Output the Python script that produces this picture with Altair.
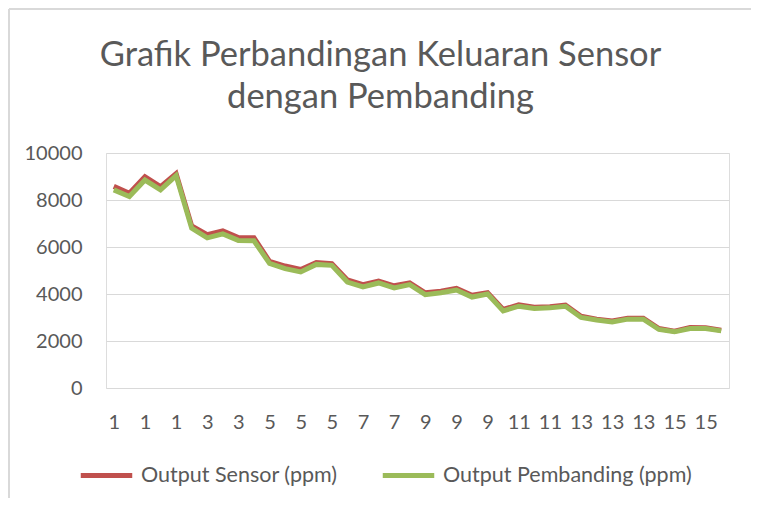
import json
import altair as alt
import pandas as pd

# ---- data ----
x_labels = ["1", "1", "1", "1", "1", "2", "3", "3", "3", "4",
            "5", "5", "5", "5", "5", "6", "7", "7", "7", "8",
            "9", "9", "9", "9", "9", "10", "11", "11", "11", "12",
            "13", "13", "13", "13", "13", "14", "15", "15", "15", "16"]

sensor = [8580, 8290, 8990, 8570, 9120, 6900, 6520, 6690, 6400, 6390,
          5390, 5190, 5040, 5340, 5290, 4600, 4400, 4550, 4350, 4470,
          4050, 4120, 4240, 3950, 4060, 3340, 3540, 3440, 3460, 3530,
          3050, 2930, 2850, 2970, 2970, 2530, 2420, 2570, 2560, 2460]

pembanding = [8430, 8150, 8850, 8430, 9040, 6800, 6390, 6560, 6280, 6265,
              5300, 5080, 4940, 5260, 5220, 4510, 4300, 4470, 4260, 4400,
              3970, 4050, 4170, 3870, 4000, 3280, 3480, 3380, 3410, 3480,
              3000, 2890, 2810, 2930, 2930, 2490, 2390, 2530, 2530, 2430]

series_names = ["Output Sensor (ppm)", "Output Pembanding (ppm)"]
series_colors = ["#C0504D", "#9BBB59"]
y_ticks = [0, 2000, 4000, 6000, 8000, 10000]
title_lines = ["Grafik Perbandingan Keluaran Sensor", "dengan Pembanding"]

rows = []
for name, vals in zip(series_names, [sensor, pembanding]):
    for i, v in enumerate(vals):
        rows.append({"idx": i, "value": v, "series": name})
df = pd.DataFrame(rows)

FONT = "Lato"
TXT = "#595959"
GRID = "#D9D9D9"

label_expr = json.dumps(x_labels) + "[datum.value]"

W, H = 623, 235
PAD_L, PAD_T = 98, 145

lines = alt.Chart(df).mark_line(strokeWidth=5, strokeJoin="miter").encode(
    x=alt.X("idx:O",
            scale=alt.Scale(type="point", padding=0.5),
            axis=alt.Axis(values=list(range(0, len(x_labels), 2)),
                          labelExpr=label_expr, labelAngle=0, title=None,
                          ticks=False, domain=False, grid=False,
                          labelPadding=24, labelFontSize=20,
                          labelColor=TXT, labelFont=FONT)),
    y=alt.Y("value:Q",
            scale=alt.Scale(domain=[0, 10000], nice=False),
            axis=alt.Axis(values=y_ticks, title=None, ticks=False,
                          domain=False, gridColor=GRID, gridWidth=1.2,
                          format="d",
                          labelPadding=24, labelFontSize=20,
                          labelColor=TXT, labelFont=FONT)),
    color=alt.Color("series:N",
                    scale=alt.Scale(domain=series_names, range=series_colors),
                    sort=series_names,
                    legend=alt.Legend(orient="none", legendX=-28, legendY=294,
                                      direction="horizontal", title=None,
                                      symbolType="stroke", symbolSize=2650,
                                      symbolStrokeWidth=5, labelFontSize=21.5,
                                      labelFont=FONT, labelColor=TXT,
                                      labelOffset=6, columnPadding=34,
                                      labelLimit=400, padding=0)),
    order=alt.Order("series:N", sort="descending"),
)

border = alt.Chart(pd.DataFrame({"k": [0]})).mark_rule(
    color=GRID, strokeWidth=2).encode(
    x=alt.value(-PAD_L + 1), y=alt.value(-PAD_T + 1), y2=alt.value(H + 110))
border_top = alt.Chart(pd.DataFrame({"k": [0]})).mark_rule(
    color=GRID, strokeWidth=2).encode(
    x=alt.value(-PAD_L + 1), x2=alt.value(W + 22), y=alt.value(-PAD_T + 1))

chart = alt.layer(border, border_top, lines).properties(
    width=W, height=H,
    autosize=alt.AutoSizeParams(type="none"),
    padding={"left": PAD_L, "top": PAD_T, "right": 23, "bottom": 110},
    title=alt.TitleParams(text=title_lines, fontSize=34.5, font=FONT,
                          fontWeight="normal", color=TXT, anchor="middle",
                          lineHeight=42, dx=-37, dy=107, offset=0),
).configure_view(stroke=None).configure(background="white")

chart.save("out.html", embed_options={"renderer": "svg", "actions": False})
